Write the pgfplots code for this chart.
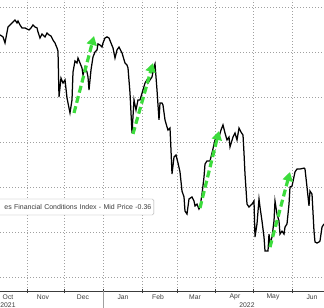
\documentclass[border=0pt]{standalone}
\usepackage{pgfplots}
\pgfplotsset{compat=1.18}
\usepackage{fontspec}
\setmainfont{Liberation Sans}
\usetikzlibrary{arrows.meta}
\definecolor{arrowgreen}{RGB}{60,220,60}
\definecolor{gridgray}{RGB}{160,160,160}
\definecolor{labelgray}{RGB}{60,60,60}

\begin{document}
\begin{tikzpicture}[x=1bp,y=1bp]
\begin{scope}
\clip (0,-17) rectangle (324,291);
\begin{axis}[
  at={(0,0)}, anchor=south west, scale only axis,
  width=324bp, height=291bp,
  xmin=9.4, xmax=268.6, ymin=-0.662, ymax=0.631,
  axis x line*=bottom, axis y line*=left,
  y axis line style={draw=none},
  x axis line style={draw=labelgray, line width=0.6bp, -},
  ytick={-0.6,-0.4,-0.2,0,0.2,0.4,0.6},
  yticklabels={},
  ytick style={draw=none},
  xtick={31,61,92,123,151,182,212,243},
  xticklabels={},
  xtick align=center,
  major tick length=4bp,
  xtick style={draw=labelgray, line width=0.6bp},
  xmajorgrids, ymajorgrids,
  grid style={gridgray, line width=0.9bp, dash pattern=on 0.9bp off 2.1bp},
  extra x ticks={15.8,43.8,75.8,107.8,135.8,165.4,197.4,227.8,259},
  extra x tick labels={Oct,Nov,Dec,Jan,Feb,Mar,Apr,May,Jun},
  extra x tick style={grid=none, major tick length=0pt},
  xticklabel style={anchor=center, yshift=-6bp, font=\fontsize{6.8}{7}\selectfont, text=labelgray},
  clip=true,
]
\addplot[black, line width=1.25bp] coordinates {
(9.4,0.476) (11.8,0.467) (13.4,0.440) (15.8,0.511) (17.4,0.520) (19.0,0.529)
(21.4,0.542) (23.0,0.529) (23.8,0.538) (25.4,0.520) (27.0,0.507) (29.4,0.507)
(31.0,0.502) (32.6,0.498) (34.2,0.507) (35.8,0.520) (37.4,0.511) (39.0,0.507)
(39.8,0.489) (41.4,0.462) (43.0,0.480) (44.6,0.471) (45.4,0.467) (47.0,0.484)
(48.6,0.476) (50.2,0.471) (51.8,0.453) (53.4,0.440) (55.0,0.418) (55.8,0.404)
(56.6,0.200) (58.2,0.284) (59.8,0.262) (61.4,0.276) (63.0,0.196) (64.6,0.151)
(65.4,0.129) (67.0,0.187) (67.8,0.311) (69.4,0.360) (71.0,0.351) (71.8,0.373)
(73.4,0.351) (75.0,0.329) (75.8,0.298) (77.4,0.333) (79.0,0.311) (79.8,0.289)
(80.6,0.231) (82.2,0.320) (83.8,0.378) (85.4,0.400) (87.0,0.409) (87.8,0.436)
(89.4,0.431) (91.0,0.422) (91.8,0.440) (93.4,0.462) (95.0,0.467) (96.6,0.462)
(98.2,0.440) (99.8,0.418) (101.4,0.373) (103.0,0.409) (104.6,0.422) (107.0,0.396)
(109.4,0.351) (111.0,0.342) (111.8,0.329) (113.4,0.218) (115.0,0.040) (116.6,0.187)
(118.2,0.142) (119.8,0.187) (121.4,0.187) (123.8,0.231) (125.4,0.262) (127.0,0.276)
(127.8,0.262) (129.4,0.276) (131.0,0.289) (132.6,0.333) (133.4,0.347) (135.0,0.231)
(136.6,0.098) (137.4,0.173) (139.0,0.173) (139.8,0.164) (141.4,0.098) (143.0,0.067)
(143.8,0.053) (145.4,0.062) (146.2,-0.036) (147.0,-0.142) (148.6,-0.067) (150.2,-0.058)
(151.8,-0.093) (153.4,-0.133) (155.0,-0.218) (156.6,-0.244) (157.4,-0.307) (159.0,-0.320)
(160.6,-0.253) (163.0,-0.244) (164.6,-0.262) (165.4,-0.284) (167.0,-0.276) (168.6,-0.298)
(169.4,-0.289) (171.0,-0.231) (172.6,-0.156) (173.4,-0.098) (175.0,-0.084) (177.4,-0.084)
(179.0,-0.049) (181.4,0.009) (183.0,0.018) (184.6,0.022) (186.2,0.053) (187.8,0.076)
(189.4,0.040) (191.0,0.009) (192.6,0.022) (193.4,-0.022) (195.8,0.022) (197.4,0.040)
(199.0,0.009) (200.6,0.062) (202.2,0.044) (203.8,0.031) (204.6,-0.049) (205.4,-0.142)
(207.0,-0.276) (208.6,-0.289) (211.0,-0.276) (212.6,-0.262) (213.4,-0.422) (215.0,-0.364)
(216.6,-0.253) (217.4,-0.289) (219.0,-0.351) (220.6,-0.422) (221.4,-0.484) (223.8,-0.484)
(224.6,-0.409) (225.4,-0.453) (227.0,-0.422) (228.6,-0.351) (229.4,-0.262) (231.0,-0.320)
(232.6,-0.351) (233.4,-0.409) (235.0,-0.396) (236.6,-0.409) (237.4,-0.378) (239.0,-0.364)
(240.6,-0.276) (241.4,-0.200) (243.0,-0.196) (245.4,-0.133) (247.0,-0.120) (249.4,-0.120)
(252.6,-0.116) (253.4,-0.120) (255.0,-0.200) (256.6,-0.284) (257.4,-0.218) (259.0,-0.231)
(260.6,-0.396) (261.4,-0.444) (263.0,-0.449) (264.6,-0.444) (265.4,-0.440) (267.0,-0.378)
(268.6,-0.364)
};
\addplot[arrowgreen, line width=3.2bp, dash pattern=on 7bp off 3.5bp, -{Triangle[length=9bp,width=10bp]}] coordinates {(68.6,0.129) (84.6,0.471)};
\addplot[arrowgreen, line width=3.2bp, dash pattern=on 7bp off 3.5bp, -{Triangle[length=9bp,width=10bp]}] coordinates {(115.8,0.036) (131.8,0.351)};
\addplot[arrowgreen, line width=3.2bp, dash pattern=on 7bp off 3.5bp, -{Triangle[length=9bp,width=10bp]}] coordinates {(169.4,-0.293) (184.6,0.049)};
\addplot[arrowgreen, line width=3.2bp, dash pattern=on 7bp off 3.5bp, -{Triangle[length=9bp,width=10bp]}] coordinates {(225.4,-0.467) (241.4,-0.133)};
\end{axis}
\node[draw=gray!70, fill=white, rounded corners=1.5bp, anchor=east, inner sep=2.5bp,
      text width=170bp, align=right,
      minimum height=16bp, text=labelgray, font=\fontsize{7.0}{8}\selectfont]
      at (154,84) {es Financial Conditions Index - Mid Price -0.36};
\draw[gridgray, line width=0.6bp] (103,0) -- (103,-17);
\node[text=labelgray, font=\fontsize{6.8}{7}\selectfont] at (8,-14) {2021};
\node[text=labelgray, font=\fontsize{6.8}{7}\selectfont] at (247,-14) {2022};
\end{scope}
\pgfresetboundingbox
\useasboundingbox (0,-17) rectangle (324,291);
\end{tikzpicture}
\end{document}
